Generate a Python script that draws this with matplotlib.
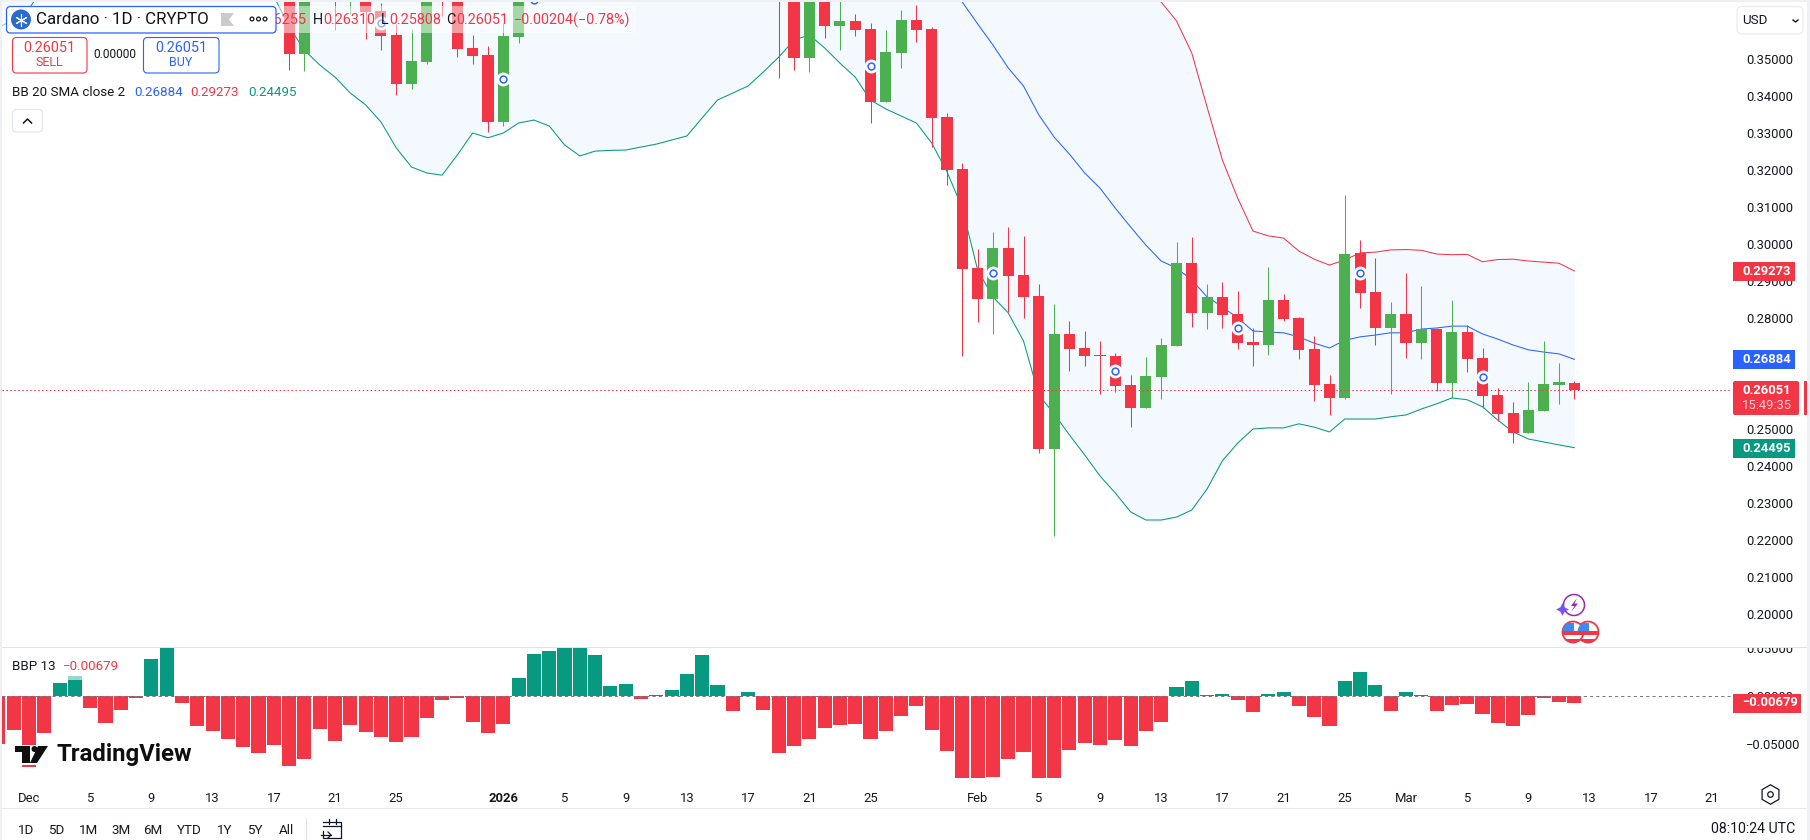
import numpy as np
import matplotlib
matplotlib.use("Agg")
import matplotlib.pyplot as plt
from matplotlib.patches import Circle, FancyBboxPatch, Polygon, Rectangle
from matplotlib.transforms import Bbox, TransformedBbox, IdentityTransform

plt.rcParams['font.family'] = ['Roboto', 'DejaVu Sans']

nan = np.nan
RED = '#F23645'
GREEN = '#4CAF50'
TEAL = '#089981'
BLUE = '#2962FF'
INK = '#131722'

# candles, first one is day 17 (day 0 = 1 Dec). values above the visible range are guesses
candle_start = 17
opens = [0.3720, 0.3514, nan, 0.3750, 0.3680, 0.3700, 0.3630, 0.3565, 0.3433, 0.3492, 0.3760, 0.3690, 0.3530, 0.3511, 0.3330, 0.3560,
         nan, nan, nan, nan, nan, nan, nan, nan, nan, nan, nan, nan, nan, nan, nan, nan,
         0.3750, 0.3720, 0.3503, 0.3700, 0.3589, 0.3603, 0.3581, 0.3384, 0.3516, 0.3605, 0.3581, 0.3343, 0.3203, 0.2935, 0.2851, 0.2989,
         0.2916, 0.2860, 0.2446, 0.2757, 0.2719, 0.2700, 0.2697, 0.2619, 0.2557, 0.2640, 0.2724, 0.2949, 0.2814, 0.2857, 0.2811, 0.2735,
         0.2727, 0.2849, 0.2800, 0.2716, 0.2622, 0.2584, 0.2976, 0.2870, 0.2773, 0.2811, 0.2732, 0.2770, 0.2624, 0.2762, 0.2692, 0.2592,
         0.2543, 0.2489, 0.2549, 0.2619, 0.26255]
highs = [0.3760, 0.3760, nan, 0.3770, 0.3740, 0.3730, 0.3651, 0.3595, 0.3581, 0.3730, 0.3790, 0.3720, 0.3565, 0.3535, 0.3597, 0.3730,
         nan, nan, nan, nan, nan, nan, nan, nan, nan, nan, nan, nan, nan, nan, nan, nan,
         0.3780, 0.3750, 0.3730, 0.3730, 0.3670, 0.3622, 0.3597, 0.3578, 0.3632, 0.3646, 0.3587, 0.3354, 0.3219, 0.2986, 0.3032, 0.3046,
         0.3022, 0.2892, 0.2838, 0.2792, 0.2765, 0.2738, 0.2705, 0.2646, 0.2695, 0.2746, 0.3005, 0.3019, 0.2892, 0.2897, 0.2873, 0.2773,
         0.2938, 0.2865, 0.2803, 0.2751, 0.2646, 0.3132, 0.3011, 0.2962, 0.2843, 0.2922, 0.2886, 0.2773, 0.2849, 0.2781, 0.2719, 0.2611,
         0.2573, 0.2627, 0.2738, 0.2678, 0.26310]
lows = [0.3470, 0.3468, nan, 0.3578, 0.3622, 0.3555, 0.3524, 0.3403, 0.3419, 0.3487, 0.3616, 0.3505, 0.3487, 0.3303, 0.3319, 0.3543,
        nan, nan, nan, nan, nan, nan, nan, nan, nan, nan, nan, nan, nan, nan, nan, nan,
        0.3449, 0.3470, 0.3465, 0.3557, 0.3524, 0.3562, 0.3327, 0.3384, 0.3476, 0.3546, 0.3262, 0.3159, 0.2697, 0.2789, 0.2757, 0.2816,
        0.2800, 0.2435, 0.2211, 0.2657, 0.2670, 0.2595, 0.2600, 0.2505, 0.2557, 0.2581, 0.2724, 0.2776, 0.2770, 0.2773, 0.2716, 0.2670,
        0.2700, 0.2792, 0.2689, 0.2576, 0.2537, 0.2581, 0.2827, 0.2727, 0.2595, 0.2692, 0.2689, 0.2603, 0.2584, 0.2654, 0.2557, 0.2522,
        0.2462, 0.2489, 0.2549, 0.2568, 0.25808]
closes = [0.3514, 0.3705, nan, 0.3700, 0.3720, 0.3627, 0.3562, 0.3433, 0.3495, 0.3700, 0.3690, 0.3527, 0.3508, 0.3330, 0.3562, 0.3700,
          nan, nan, nan, nan, nan, nan, nan, nan, nan, nan, nan, nan, nan, nan, nan, nan,
          0.3700, 0.3503, 0.3700, 0.3589, 0.3603, 0.3578, 0.3384, 0.3519, 0.3605, 0.3578, 0.3341, 0.3200, 0.2932, 0.2851, 0.2989, 0.2914,
          0.2857, 0.2446, 0.2757, 0.2716, 0.2697, 0.2697, 0.2616, 0.2557, 0.2643, 0.2727, 0.2949, 0.2814, 0.2857, 0.2808, 0.2732, 0.2727,
          0.2849, 0.2797, 0.2713, 0.2619, 0.2584, 0.2973, 0.2868, 0.2773, 0.2811, 0.2732, 0.2770, 0.2624, 0.2762, 0.2689, 0.2589, 0.2541,
          0.2489, 0.2551, 0.2622, 0.2627, 0.26051]

# bollinger bands, lower band starts on day -2
band_start = -2
lower_band = [0.3584, 0.3608, 0.3635, 0.3700, 0.3720, 0.3740, 0.3760, 0.3780, 0.3790, 0.3800, 0.3800, 0.3790, 0.3780, 0.3760, 0.3740, 0.3720,
              0.3700, 0.3680, 0.3670, 0.3587, 0.3524, 0.3484, 0.3451, 0.3408, 0.3376, 0.3330, 0.3260, 0.3208, 0.3192, 0.3186, 0.3241, 0.3300,
              0.3287, 0.3300, 0.3327, 0.3335, 0.3319, 0.3268, 0.3238, 0.3251, 0.3253, 0.3254, 0.3262, 0.3270, 0.3281, 0.3292, 0.3341, 0.3389,
              0.3408, 0.3427, 0.3465, 0.3505, 0.3551, 0.3565, 0.3530, 0.3489, 0.3451, 0.3389, 0.3365, 0.3346, 0.3327, 0.3273, 0.3195, 0.3097,
              0.2930, 0.2857, 0.2814, 0.2738, 0.2592, 0.2541, 0.2484, 0.2430, 0.2373, 0.2327, 0.2276, 0.2254, 0.2254, 0.2262, 0.2281, 0.2338,
              0.2414, 0.2462, 0.2500, 0.2503, 0.2503, 0.2514, 0.2505, 0.2492, 0.2527, 0.2527, 0.2527, 0.2533, 0.2538, 0.2554, 0.2568, 0.2584,
              0.2579, 0.2560, 0.2524, 0.2492, 0.2473, 0.2465, 0.2457, 0.24495]
upper_hidden = 0.42  # only needed so the fill runs off the top of the pane
upper_band_first_day = 64
upper_band = [0.3950, 0.3920, 0.3890, 0.3860, 0.3830, 0.3800, 0.3770, 0.3740, 0.3710, 0.3680, 0.3654, 0.3603, 0.3516, 0.3370, 0.3227, 0.3124,
              0.3035, 0.3022, 0.3016, 0.2981, 0.2959, 0.2943, 0.2957, 0.2976, 0.2978, 0.2984, 0.2985, 0.2983, 0.2973, 0.2971, 0.2972, 0.2952,
              0.2958, 0.2959, 0.2954, 0.2951, 0.2948, 0.29273]
mid_band_first_day = 60
mid_band = [0.3700, 0.3654, 0.3595, 0.3538, 0.3476, 0.3427, 0.3349, 0.3289, 0.3243, 0.3192, 0.3151, 0.3097, 0.3046, 0.2997, 0.2954, 0.2935,
            0.2903, 0.2857, 0.2830, 0.2800, 0.2765, 0.2762, 0.2760, 0.2749, 0.2732, 0.2719, 0.2740, 0.2749, 0.2754, 0.2760, 0.2760, 0.2770,
            0.2773, 0.2778, 0.2778, 0.2757, 0.2743, 0.2727, 0.2714, 0.2708, 0.2703, 0.26884]

# the little ring markers on some candles
marker_days = [23, 31, 33, 55, 63, 71, 79, 87, 95]
marker_prices = [0.3597, 0.3446, 0.3660, 0.3482, 0.2921, 0.2657, 0.2773, 0.2921, 0.2641]

# BBP histogram, first value is day -2. bars touching the pane edge run past it
bbp = [-0.0500, -0.0354, -0.0736, -0.0385, 0.0135, 0.0208, -0.0125, -0.0281, -0.0146, -0.0021, 0.0385, 0.0550, -0.0073, -0.0313, -0.0365, -0.0448,
       -0.0531, -0.0594, -0.0510, -0.0729, -0.0656, -0.0344, -0.0469, -0.0302, -0.0375, -0.0427, -0.0479, -0.0427, -0.0229, -0.0042, -0.0021, -0.0271,
       -0.0385, -0.0292, 0.0188, 0.0438, 0.0469, 0.0550, 0.0550, 0.0427, 0.0104, 0.0125, -0.0031, 0.0010, 0.0063, 0.0229, 0.0427, 0.0115,
       -0.0156, 0.0042, -0.0146, -0.0594, -0.0521, -0.0448, -0.0333, -0.0302, -0.0292, -0.0448, -0.0365, -0.0208, -0.0104, -0.0354, -0.0573, -0.0900,
       -0.0900, -0.0840, -0.0656, -0.0583, -0.0900, -0.0900, -0.0563, -0.0490, -0.0510, -0.0458, -0.0521, -0.0365, -0.0271, 0.0094, 0.0156, 0.0010,
       0.0021, -0.0042, -0.0167, 0.0021, 0.0042, -0.0104, -0.0219, -0.0313, 0.0156, 0.0250, 0.0115, -0.0156, 0.0042, 0.0010, -0.0156, -0.0094,
       -0.0083, -0.0188, -0.0281, -0.0313, -0.0198, -0.0021, -0.0063, -0.00679]

price_ticks = [0.20, 0.21, 0.22, 0.23, 0.24, 0.25, 0.26, 0.27, 0.28, 0.29, 0.30, 0.31, 0.32, 0.33, 0.34, 0.35]
bbp_ticks = [-0.05, 0.0, 0.05]
date_ticks = [0, 4, 8, 12, 16, 20, 24, 31, 35, 39, 43, 47, 51, 55, 62, 66, 70, 74, 78, 82, 86, 90, 94, 98, 102, 106, 110]
date_labels = ['Dec', '5', '9', '13', '17', '21', '25', '2026', '5', '9', '13', '17', '21', '25', 'Feb', '5', '9', '13', '17', '21', '25', 'Mar', '5', '9', '13', '17', '21']
last_price = 0.26051
range_buttons = ['1D', '5D', '1M', '3M', '6M', 'YTD', '1Y', '5Y', 'All']

W, H = 1810, 840
fig = plt.figure(figsize=(W / 100, H / 100), dpi=100, facecolor='white')


def pane(left, top, right, bottom):
    return fig.add_axes([left / W, 1 - bottom / H, (right - left) / W, (bottom - top) / H])


def clean(ax):
    for s in ax.spines.values():
        s.set_visible(False)


# price pane ---------------------------------------------------------
ax = pane(2, 2, 1732, 647)
clean(ax)
day0_px, day_px = 29.0, 15.3
ax.set_xlim((2 - day0_px) / day_px, (1732 - day0_px) / day_px)
ax.set_ylim(0.30 + (244 - 647) / 3700, 0.30 + (244 - 2) / 3700)

band_days = np.arange(band_start, band_start + len(lower_band))
upper_full = np.full(len(band_days), upper_hidden)
upper_full[upper_band_first_day - band_start:] = upper_band
ax.fill_between(band_days, lower_band, upper_full, color='#F3F9FE', lw=0, zorder=1)
ax.plot(band_days, lower_band, color=TEAL, lw=0.75, zorder=2)
ax.plot(np.arange(upper_band_first_day, upper_band_first_day + len(upper_band)), upper_band, color=RED, lw=0.75, zorder=2)
ax.plot(np.arange(mid_band_first_day, mid_band_first_day + len(mid_band)), mid_band, color=BLUE, lw=0.75, zorder=2)

candle_days = np.arange(candle_start, candle_start + len(opens))
o, h, l, c = [np.array(a) for a in (opens, highs, lows, closes)]
colors = [GREEN if cc >= oo else RED for oo, cc in zip(o, c)]
ax.vlines(candle_days, l, h, colors=colors, lw=0.75, zorder=3)
ax.bar(candle_days, np.abs(c - o), bottom=np.minimum(o, c), width=0.72, color=colors, lw=0, zorder=3)

ax.scatter(marker_days, marker_prices, s=100, color='white', lw=0, zorder=4)
ax.scatter(marker_days, marker_prices, s=24, facecolor='white', edgecolor=BLUE, lw=1.1, zorder=4)
ax.axhline(last_price, color=RED, lw=0.75, dashes=(1.4, 2.4), zorder=5)

ax.set_xticks([])
ax.yaxis.tick_right()
ax.set_yticks(price_ticks)
ax.set_yticklabels(['%.5f' % t for t in price_ticks])
ax.tick_params(axis='y', length=0, pad=10, labelsize=9.4, labelcolor=INK)

# BBP pane -----------------------------------------------------------
ax2 = pane(2, 648, 1732, 778)
clean(ax2)
ax2.set_xlim(ax.get_xlim())
ax2.set_ylim(-82 / 960, 48 / 960)
bbp_colors = [TEAL if v >= 0 else RED for v in bbp]
ax2.bar(band_days, bbp, width=0.92, color=bbp_colors, lw=0, zorder=2)
ax2.axhline(0, color='#787B86', lw=0.75, dashes=(3, 3), zorder=3)
ax2.set_xticks(date_ticks)
ax2.set_xticklabels(date_labels)
ax2.tick_params(axis='x', length=0, pad=10, labelsize=9.4, labelcolor=INK)
ax2.get_xticklabels()[date_labels.index('2026')].set_fontweight('bold')
ax2.yaxis.tick_right()
ax2.set_yticks(bbp_ticks)
ax2.set_yticklabels(['\u22120.05000', '0.00000', '0.05000'])
ax2.tick_params(axis='y', length=0, pad=10, labelsize=9.4, labelcolor=INK)
# top label is cut off by the pane edge
clip = Bbox([[1733, 0], [1800, H - 648]])
for t in ax2.get_yticklabels():
    t.set_clip_box(TransformedBbox(clip, IdentityTransform()))
    t.set_clip_on(True)

# everything else, in pixel coordinates -------------------------------
ui = fig.add_axes([0, 0, 1, 1], zorder=10)
ui.set_xlim(0, W)
ui.set_ylim(H, 0)
ui.axis('off')
ui.patch.set_alpha(0)


def txt(x, y, s, size=9.4, color=INK, ha='left', **kw):
    return ui.text(x, y, s, fontsize=size, color=color, ha=ha, va='center', zorder=kw.pop('zorder', 6), **kw)


def box(x0, y0, x1, y1, fc='white', ec='none', r=4, lw=0.8, zorder=5, alpha=None):
    p = FancyBboxPatch((x0, y0), x1 - x0, y1 - y0, boxstyle='round,pad=0,rounding_size=%g' % r,
                       fc=fc, ec=ec, lw=lw, zorder=zorder, alpha=alpha)
    ui.add_patch(p)
    return p


def rect(x0, y0, x1, y1, color, alpha=None, zorder=4):
    ui.add_patch(Rectangle((x0, y0), x1 - x0, y1 - y0, fc=color, ec='none', lw=0, alpha=alpha, zorder=zorder))


# frame strips and separators
rect(0, 0, W, 2, '#EEF0F3')
rect(0, 0, 2, H, '#EEF0F3')
rect(1807, 0, W, H, '#EEF0F3')
rect(2, 647, 1807, 648, '#E0E3EB')
rect(2, 808, 1807, 809, '#E6E8ED')
rect(306, 818, 307, 840, '#E0E3EB')

# toolbar legend
rect(2, 6, 636, 33, 'white', alpha=0.5, zorder=3)
ohlc = [(313, 'H', INK), (323, '0.26310', RED), (381, 'L', INK), (389, '0.25808', RED), (446, 'C', INK),
        (456, '0.26051', RED), (514, '\u22120.00204', RED), (573, '(\u22120.78%)', RED)]
txt(306, 20, 'O0.26255', size=10.4, color=RED, ha='right', zorder=4)
for x, s, col in ohlc:
    txt(x, 20, s, size=10.4, color=col, zorder=4)

box(6.5, 6.5, 276, 33, ec=BLUE, lw=0.9)
ui.add_patch(Circle((21, 19.5), 10, fc='#2A6BD0', ec='none', zorder=6))
ui.plot(21, 19.5, marker=(6, 2, 0), ms=9, mew=0.8, mec='white', zorder=7)
txt(36, 20, 'Cardano \u00b7 1D \u00b7 CRYPTO', size=12.2, color='#0F1218')
ui.add_patch(Polygon([(221, 13), (234, 13), (229, 19.5), (234, 26), (221, 26)], fc='#C9CBD1', ec='none', zorder=6))
for x in (252, 258.5, 265):
    ui.add_patch(Circle((x, 19), 1.9, fc='white', ec=INK, lw=0.9, zorder=6))

box(12.5, 37.5, 87, 73, ec=RED)
txt(49.5, 47.5, '0.26051', size=10.4, color=RED, ha='center')
txt(49.5, 62.5, 'SELL', size=9, color=RED, ha='center')
txt(115, 55, '0.00000', size=8.6, ha='center')
box(143.5, 37.5, 219, 73, ec=BLUE)
txt(181, 47.5, '0.26051', size=10.4, color=BLUE, ha='center')
txt(181, 62.5, 'BUY', size=9, color=BLUE, ha='center')

txt(12, 92, 'BB 20 SMA close 2', size=9.6)
txt(134, 92, '0.26884', size=9.6, color=BLUE)
txt(190.5, 92, '0.29273', size=9.6, color=RED)
txt(248, 92, '0.24495', size=9.6, color=TEAL)
box(12.5, 109.5, 42.5, 132, ec='#E0E3EB')
ui.plot([23.5, 27.5, 31.5], [123, 119, 123], color=INK, lw=1.1, zorder=6)

# BBP legend
rect(2, 650, 124, 680, 'white', alpha=0.6)
txt(12, 666, 'BBP 13', size=9.6)
txt(63, 666, '\u22120.00679', size=9.6, color=RED)

# TradingView logo
rect(15, 745, 192, 765, 'white')
ui.add_patch(Polygon([(15, 746), (30, 746), (30, 763), (22, 763), (22, 752), (15, 752)], fc='#0F0F0F', ec='none', zorder=6))
ui.add_patch(Circle((34.5, 749), 3, fc='#0F0F0F', ec='none', zorder=6))
ui.add_patch(Polygon([(38, 746), (48, 746), (37, 763), (30, 763)], fc='#0F0F0F', ec='none', zorder=6))
txt(56, 755, 'TradingView', size=17.2, color='#0F0F0F', fontweight='bold')

# price scale
box(1737, 6.5, 1803, 34, ec='#E8EAEE', r=5)
txt(1742, 21, 'USD', size=9.6)
ui.plot([1793, 1795.5, 1798], [20, 22, 20], color=INK, lw=1.0, zorder=6)

rect(1733, 262, 1795, 281, RED)
txt(1742, 271.5, '0.29273', color='white', fontweight='bold')
rect(1733, 350, 1795, 369, BLUE)
txt(1742, 359.5, '0.26884', color='white', fontweight='bold')
box(1733, 381, 1799, 415, fc=RED, r=2)
txt(1742, 390.5, '0.26051', color='white', fontweight='bold')
txt(1742, 405.5, '15:49:35', color='#FFC9CD')
rect(1804, 381, 1807, 415, RED)
rect(1733, 439, 1795, 458, TEAL)
txt(1742, 448.5, '0.24495', color='white', fontweight='bold')
rect(1733, 694, 1801, 713, RED)
txt(1742, 703, '\u22120.00679', color='white', fontweight='bold')

# event icons
ui.add_patch(Circle((1574, 605), 10.5, fc='white', ec='#9C27B0', lw=1.1, zorder=6))
ui.add_patch(Polygon([(1577, 598), (1571, 606), (1574.5, 606), (1571, 612), (1578, 603.5), (1574.5, 603.5)], fc='#9C27B0', ec='none', zorder=7))
ui.plot(1562, 609, marker=(4, 1, 0), ms=9, color='#7B52F5', mew=0, zorder=8)
for cx in (1588, 1573):
    ring = Circle((cx, 632), 10.5, fc='white', ec=RED, lw=1.3, zorder=6)
    ui.add_patch(ring)
    for y0, y1, col in ((631, 635, RED), (639, 644, RED), (623, 631, '#3D8BF0')):
        x1 = cx + 12 if col == RED else cx + 1
        r = Rectangle((cx - 12, y0), x1 - cx + 12, y1 - y0, fc=col, ec='none', zorder=6.5)
        ui.add_patch(r)
        r.set_clip_path(ring)

# settings hexagon
ui.plot(1770, 794, marker='h', ms=14, mfc='none', mec=INK, mew=0.9, zorder=6)
ui.plot(1770, 794, marker='o', ms=4, mfc='none', mec=INK, mew=0.9, zorder=6)

# bottom bar
for x, s in zip((26.5, 56.5, 88.5, 121, 153, 189, 225, 255, 286), range_buttons):
    txt(x, 831, s, size=9.6, ha='center')
ui.plot([323, 341, 341, 323, 323], [822, 822, 838, 838, 831], color=INK, lw=0.9, zorder=6)
ui.plot([323, 341], [826, 826], color=INK, lw=0.9, zorder=6)
ui.plot([329, 329], [819, 824], color=INK, lw=0.9, zorder=6)
ui.plot([336, 336], [819, 824], color=INK, lw=0.9, zorder=6)
ui.plot([321, 331], [835, 835], color=INK, lw=0.9, zorder=7)
ui.plot([328, 331, 328], [832, 835, 838], color=INK, lw=0.9, zorder=7)
txt(1795, 829, '08:10:24 UTC', size=10.2, ha='right')

fig.savefig('out.png', dpi=100)
